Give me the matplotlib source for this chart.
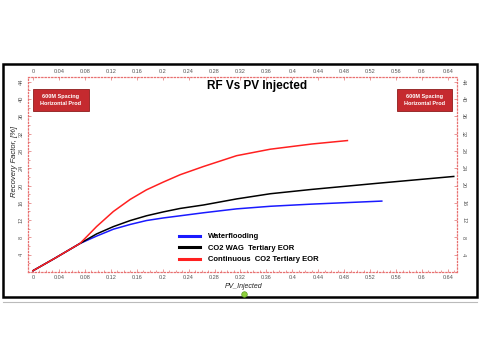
import matplotlib.pyplot as plt
from matplotlib.patches import Rectangle
from matplotlib.ticker import MultipleLocator

plt.rcParams["font.family"] = ["Liberation Sans", "DejaVu Sans"]

# PV injected vs recovery factor
pv_water = [0, 0.034, 0.0725, 0.098, 0.124, 0.150, 0.175, 0.201, 0.227, 0.263, 0.314, 0.366, 0.43, 0.538]
rf_water = [0.3, 3.2, 6.6, 8.3, 9.9, 11.0, 11.9, 12.5, 13.0, 13.7, 14.6, 15.2, 15.7, 16.4]

pv_wag = [0, 0.034, 0.0725, 0.098, 0.124, 0.150, 0.175, 0.201, 0.227, 0.263, 0.314, 0.366, 0.43, 0.53, 0.649]
rf_wag = [0.3, 3.2, 6.6, 8.8, 10.5, 11.9, 13.0, 13.9, 14.7, 15.5, 16.9, 18.1, 19.1, 20.5, 22.1]

pv_co2 = [0, 0.034, 0.0725, 0.085, 0.098, 0.124, 0.150, 0.175, 0.201, 0.227, 0.263, 0.314, 0.366, 0.43, 0.485]
rf_co2 = [0.3, 3.2, 6.6, 8.5, 10.5, 14.0, 16.8, 19.0, 20.8, 22.5, 24.4, 26.9, 28.4, 29.6, 30.4]

labels = ["Waterflooding", "CO2 WAG  Tertiary EOR", "Continuous  CO2 Tertiary EOR"]
box_text = "600M Spacing\nHorizontal Prod"

W, H = 480, 360


def fx(px):
    return px / W


def fy(py):
    return 1 - py / H


fig = plt.figure(figsize=(4.8, 3.6), dpi=100)
fig.patch.set_facecolor("white")

# outer black frame
fig.add_artist(Rectangle((fx(3), fy(297)), fx(474), (297 - 64) / H,
                         transform=fig.transFigure, fill=False,
                         edgecolor="black", linewidth=1.8))
fig.add_artist(plt.Line2D([fx(3), fx(477)], [fy(302), fy(302)],
                          transform=fig.transFigure, color="#bbbbbb", lw=0.8))

ax = fig.add_axes([fx(28), fy(272), fx(429), (272 - 77) / H])
ax.plot(pv_water, rf_water, color="#1a1aff", lw=1.1, label=labels[0])
ax.plot(pv_wag, rf_wag, color="black", lw=1.1, label=labels[1])
ax.plot(pv_co2, rf_co2, color="#ff2020", lw=1.1, label=labels[2])

ax.set_xlim(-0.0077, 0.654)
ax.set_ylim(0, 45.1)
ax.xaxis.set_major_locator(MultipleLocator(0.04))
ax.yaxis.set_major_locator(MultipleLocator(4))
ax.yaxis.set_minor_locator(MultipleLocator(2))
ax.xaxis.set_minor_locator(MultipleLocator(0.01))

xt = [round(0.04 * i, 2) for i in range(17)]
ax.set_xticks(xt)
ax.set_xticklabels(["%g" % v for v in xt])
yt = list(range(4, 45, 4))
ax.set_yticks(yt)
ax.set_yticklabels([str(v) for v in yt])

ax.tick_params(axis="both", which="both", direction="in", colors="#e07070",
               labelcolor="#555555", labelsize=4, width=0.5)
ax.tick_params(which="major", length=2)
ax.tick_params(which="minor", length=1.2)
ax.tick_params(axis="x", top=True, labeltop=True, bottom=True, labelbottom=True, pad=2)
ax.tick_params(axis="y", left=True, right=True, labelright=True, pad=3)
for lab in ax.get_yticklabels(which="major"):
    lab.set_rotation(90)
    lab.set_va("center")
for t in ax.yaxis.get_major_ticks():
    t.label2.set_rotation(270)
    t.label2.set_va("center")

for s in ax.spines.values():
    s.set_color("#e87070")
    s.set_linestyle(":")
    s.set_linewidth(0.9)

fig.text(fx(257), fy(86), "RF Vs PV Injected", ha="center", va="center",
         fontsize=8.5, fontweight="bold")
fig.text(fx(15), fy(162), "Recovery Factor, [%]", rotation=90, ha="center",
         va="center", fontsize=5.5, style="italic", color="#222222")
fig.text(fx(244), fy(286), "PV_Injected", ha="center", va="center",
         fontsize=5, style="italic", color="#222222")

# red label boxes
for x0, x1 in [(33, 89), (397, 452)]:
    fig.add_artist(Rectangle((fx(x0), fy(111)), fx(x1 - x0), 22 / H,
                             transform=fig.transFigure, facecolor="#c52a2f",
                             edgecolor="#8e1c1c", linewidth=0.6))
    fig.text(fx((x0 + x1) / 2), fy(100), box_text, ha="center", va="center",
             fontsize=4, color="white", fontweight="bold", linespacing=1.5)

leg = ax.legend(loc="upper left", bbox_to_anchor=(fx(179), fy(233)),
                bbox_transform=fig.transFigure, frameon=False, borderpad=0,
                borderaxespad=0, handlelength=2.7, handletextpad=1.1,
                labelspacing=0.55, prop={"size": 5.5, "weight": "bold"})
for line in leg.get_lines():
    line.set_linewidth(2.2)

# green marker on the frame
fig.add_artist(plt.Line2D([fx(244)], [fy(294)], transform=fig.transFigure,
                          marker="o", markersize=4, markerfacecolor="#8fd13c",
                          markeredgecolor="#5a9a20", markeredgewidth=0.5))

fig.savefig("out.png", dpi=100)
